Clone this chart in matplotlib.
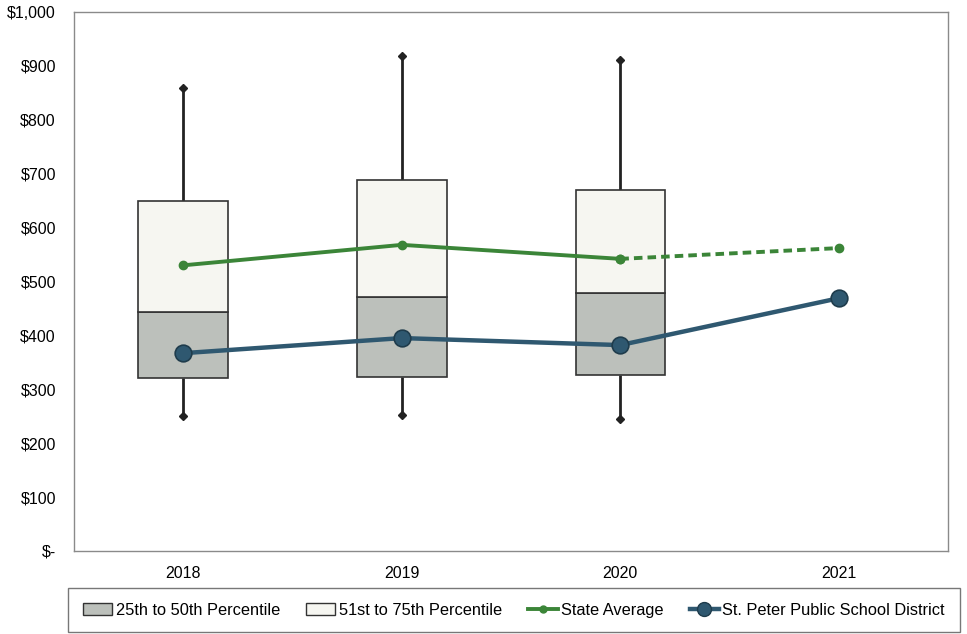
import matplotlib
matplotlib.use("Agg")
import matplotlib.pyplot as plt
from matplotlib.patches import Patch
from matplotlib.lines import Line2D

plt.rcParams['font.family'] = ['Liberation Sans', 'DejaVu Sans']

years = ["2018", "2019", "2020", "2021"]
box_years = ["2018", "2019", "2020"]
whisker_low = [250, 252, 245]
pct25 = [321, 323, 327]
pct50 = [443, 471, 479]
pct75 = [650, 688, 670]
whisker_high = [859, 918, 911]
state_avg = [530, 568, 542, 562]
district = [367, 395, 382, 469]
y_ticks = [0, 100, 200, 300, 400, 500, 600, 700, 800, 900, 1000]
y_tick_labels = ["$-", "$100", "$200", "$300", "$400", "$500", "$600",
                 "$700", "$800", "$900", "$1,000"]

low_color = "#bcc0bb"
high_color = "#f6f6f1"
green = "#3b8538"
navy = "#2f5870"

fig = plt.figure(figsize=(9.67, 6.34), dpi=100)
ax = fig.add_axes([0.0765, 0.131, 0.904, 0.850])

xs = list(range(len(years)))
bw = 0.41
for i, _ in enumerate(box_years):
    ax.vlines(i, whisker_low[i], pct25[i], color="#222222", lw=2, zorder=1)
    ax.vlines(i, pct75[i], whisker_high[i], color="#222222", lw=2, zorder=1)
    ax.plot([i, i], [whisker_low[i], whisker_high[i]], ls="none", marker="D",
            ms=4.5, color="#222222", zorder=2)
    ax.bar(i, pct50[i] - pct25[i], bottom=pct25[i], width=bw, color=low_color,
           edgecolor="#333333", lw=1.2, zorder=2)
    ax.bar(i, pct75[i] - pct50[i], bottom=pct50[i], width=bw, color=high_color,
           edgecolor="#333333", lw=1.2, zorder=2)

ax.plot(xs[:3], state_avg[:3], color=green, lw=2.8, marker="o", ms=6, zorder=4)
ax.plot(xs[2:], state_avg[2:], color=green, lw=2.8, ls=(0, (2.2, 1.3)),
        marker="o", ms=6, zorder=4)
ax.plot(xs, district, color=navy, lw=3.2, marker="o", ms=12,
        markeredgecolor="#1f3c4c", markeredgewidth=1.2, zorder=5)

ax.set_xlim(-0.5, len(years) - 0.5)
ax.set_ylim(0, 1000)
ax.set_xticks(xs)
ax.set_xticklabels(years, fontsize=11.5)
ax.set_yticks(y_ticks)
ax.set_yticklabels(y_tick_labels, fontsize=11.5)
ax.tick_params(length=0, pad=11, axis="x")
ax.tick_params(length=0, pad=13, axis="y")
for s in ax.spines.values():
    s.set_color("#8a8a8a")
    s.set_linewidth(1)

handles = [
    Patch(facecolor=low_color, edgecolor="#333333", label="25th to 50th Percentile"),
    Patch(facecolor=high_color, edgecolor="#333333", label="51st to 75th Percentile"),
    Line2D([0], [0], color=green, lw=2.8, marker="o", ms=5, label="State Average"),
    Line2D([0], [0], color=navy, lw=3.2, marker="o", ms=10,
           markeredgecolor="#1f3c4c", label="St. Peter Public School District"),
]
leg = fig.legend(handles=handles, loc="center", ncol=4,
                 bbox_to_anchor=(0.0703, 0.0016, 0.922, 0.072),
                 bbox_transform=fig.transFigure,
                 fontsize=11.8, frameon=True, fancybox=False, edgecolor="#777777",
                 framealpha=1, handlelength=1.8, handletextpad=0.2,
                 columnspacing=1.4, borderpad=0.9, borderaxespad=0,
                 mode="expand")

fig.savefig("out.png", dpi=100)
